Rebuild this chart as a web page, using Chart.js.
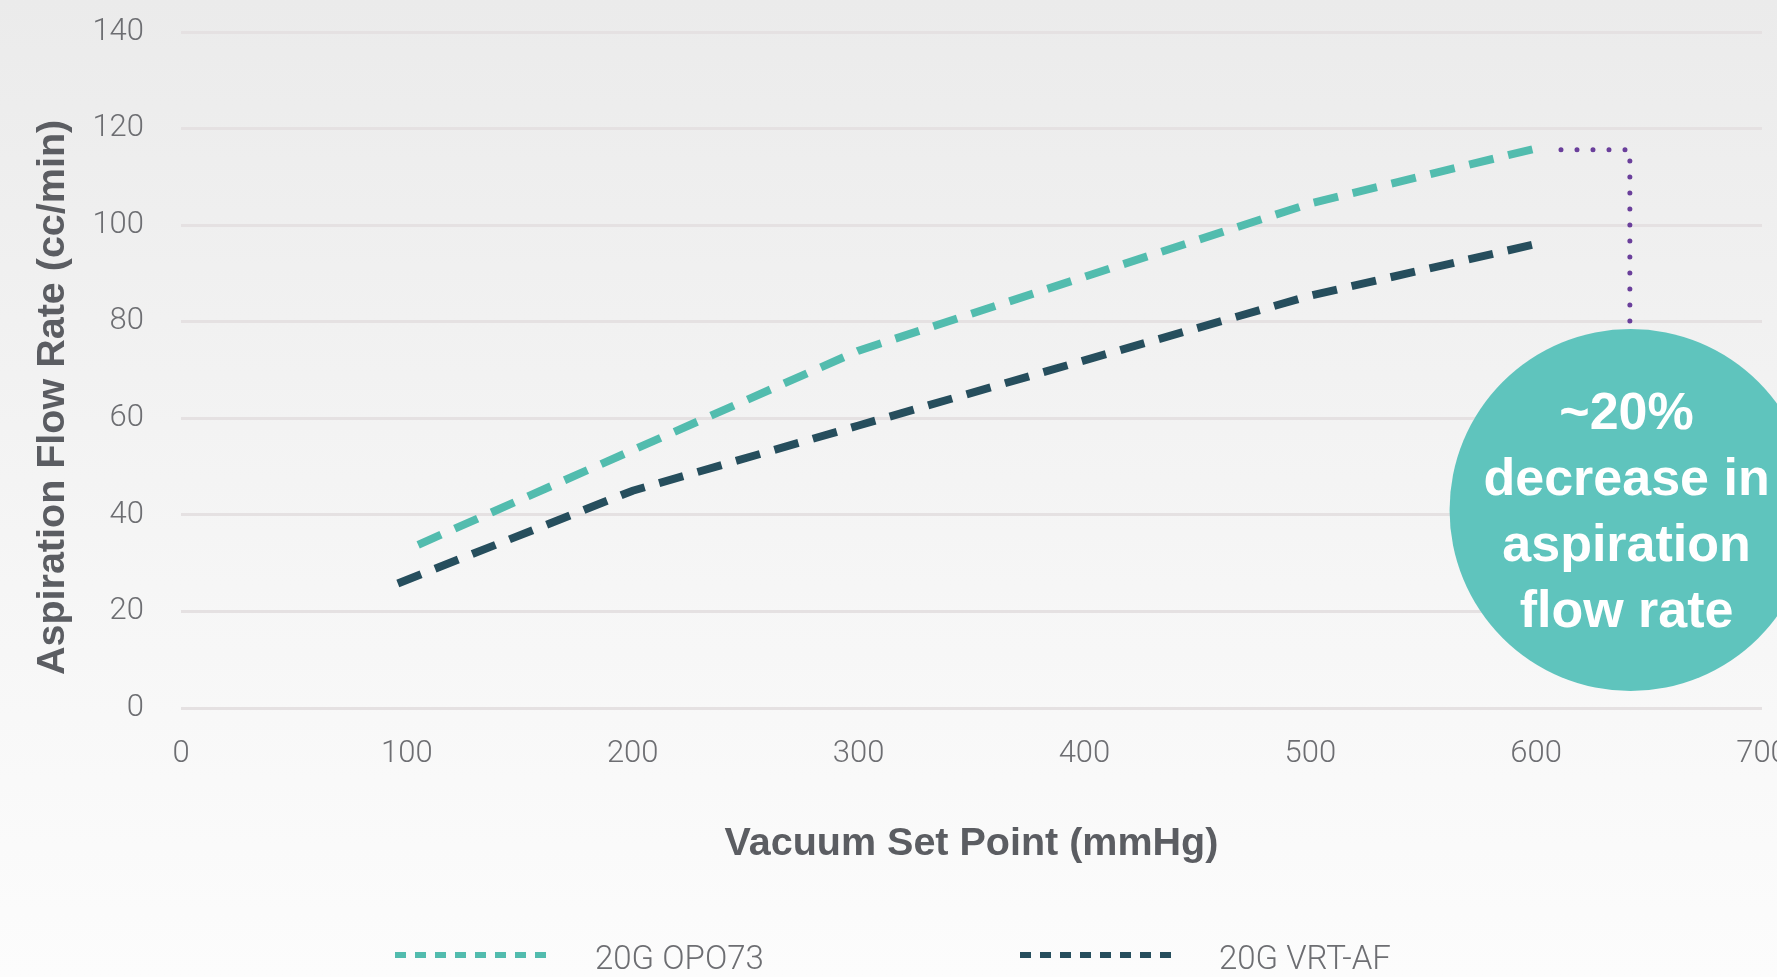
<!DOCTYPE html>
<html>
<head>
<meta charset="utf-8">
<script src="https://cdn.jsdelivr.net/npm/chart.js@4.4.1/dist/chart.umd.min.js"></script>
<style>
  html, body {
    margin: 0;
    padding: 0;
    width: 1777px;
    height: 977px;
    overflow: hidden;
    background: linear-gradient(to bottom, #ebebeb 0%, #f6f6f6 60%, #fcfcfc 100%);
  }
  #myChart {
    position: absolute;
    left: 0;
    top: 0;
  }
</style>
</head>
<body>
<canvas id="myChart" width="1830" height="1000"></canvas>
<script>
// values
const opoX = [105, 200, 300, 400, 500, 600];
const opoY = [33.8, 53.4, 74, 89.3, 104.5, 115.9];
const vrtX = [96, 200, 300, 400, 500, 600];
const vrtY = [25.8, 45, 58.5, 72, 85.4, 96.1];

// callout: dotted leader + circle
const leaderX = [611, 641.5, 641.5];
const leaderY = [115.6, 115.6, 78.5];
const calloutX = 641.8;
const calloutY = 41;
const calloutR = 181;
const calloutText = ['~20%', 'decrease in', 'aspiration', 'flow rate'];

const seriesLabels = ['20G OPO73', '20G VRT-AF'];
const seriesColors = ['#52bcae', '#264e5d'];

const xTicksMin = 0, xTicksMax = 700, xStep = 100;
const yTicksMin = 0, yTicksMax = 140, yStep = 20;

function toPoints(xs, ys) {
    let pts = [];
    for (let i = 0; i < xs.length; i++) {
        pts.push({x: xs[i], y: ys[i]});
    }
    return pts;
}

const tickFont = {family: "Roboto, 'Liberation Sans', sans-serif", size: 31, weight: '300'};
const titleFont = {family: "'Liberation Sans', Arial, sans-serif", size: 39.5, weight: 'bold'};

// text inside the circle
const calloutPlugin = {
    id: 'calloutText',
    afterDatasetsDraw(chart) {
        const el = chart.getDatasetMeta(0).data[0];
        const ctx = chart.ctx;
        ctx.save();
        ctx.fillStyle = '#ffffff';
        ctx.font = "bold 52px 'Liberation Sans', Arial, sans-serif";
        ctx.textAlign = 'center';
        ctx.textBaseline = 'middle';
        const lh = 66;
        for (let i = 0; i < calloutText.length; i++) {
            ctx.fillText(calloutText[i], el.x - 4, el.y + 3.5 + (i - 1.5) * lh);
        }
        ctx.restore();
    }
};

// legend along the bottom
const legendPlugin = {
    id: 'bottomLegend',
    afterDraw(chart) {
        const ctx = chart.ctx;
        const samples = [[395, 549, 595], [1020, 1171, 1219]];
        ctx.save();
        for (let i = 0; i < seriesLabels.length; i++) {
            const s = samples[i];
            ctx.beginPath();
            ctx.setLineDash([11, 9]);
            ctx.lineWidth = 6;
            ctx.strokeStyle = seriesColors[i];
            ctx.moveTo(s[0], 955);
            ctx.lineTo(s[1], 955);
            ctx.stroke();
            ctx.setLineDash([]);
            ctx.fillStyle = '#6d6e72';
            ctx.font = "300 33px Roboto, 'Liberation Sans', sans-serif";
            ctx.textAlign = 'left';
            ctx.textBaseline = 'middle';
            ctx.fillText(seriesLabels[i], s[2], 961);
        }
        ctx.restore();
    }
};

const config = {
    type: 'line',
    data: {
        datasets: [
            {
                type: 'bubble',
                label: 'callout',
                data: [{x: calloutX, y: calloutY, r: calloutR}],
                backgroundColor: '#5fc4bd',
                borderWidth: 0,
                clip: false,
            },
            {
                label: seriesLabels[0],
                data: toPoints(opoX, opoY),
                borderColor: seriesColors[0],
                borderWidth: 8,
                borderDash: [25, 15],
                pointRadius: 0,
                fill: false,
                tension: 0,
            },
            {
                label: seriesLabels[1],
                data: toPoints(vrtX, vrtY),
                borderColor: seriesColors[1],
                borderWidth: 8,
                borderDash: [25, 15],
                pointRadius: 0,
                fill: false,
                tension: 0,
            },
            {
                label: 'leader',
                data: toPoints(leaderX, leaderY),
                borderColor: '#6a3f9b',
                borderWidth: 5,
                borderDash: [0, 16],
                borderCapStyle: 'round',
                pointRadius: 0,
                fill: false,
                clip: false,
            },
        ]
    },
    options: {
        responsive: false,
        animation: false,
        devicePixelRatio: 1,
        events: [],
        layout: {
            autoPadding: false,
            padding: {left: 0, right: 68, top: 32, bottom: 132}
        },
        plugins: {
            legend: {display: false},
            tooltip: {enabled: false},
        },
        scales: {
            x: {
                type: 'linear',
                min: xTicksMin,
                max: xTicksMax,
                ticks: {
                    stepSize: xStep,
                    color: '#6d6e72',
                    font: tickFont,
                    padding: 28,
                    maxRotation: 0,
                },
                grid: {display: false, drawTicks: false},
                border: {display: false},
                title: {
                    display: true,
                    text: 'Vacuum Set Point (mmHg)',
                    color: '#5b5d62',
                    font: titleFont,
                    padding: {top: 0, bottom: 0},
                },
                afterFit(scale) {
                    scale.height = 160;
                },
            },
            y: {
                type: 'linear',
                min: yTicksMin,
                max: yTicksMax,
                ticks: {
                    stepSize: yStep,
                    color: '#6d6e72',
                    font: tickFont,
                    padding: 37,
                },
                grid: {
                    color: '#e5e1e2',
                    lineWidth: 3,
                    drawTicks: false,
                },
                border: {display: false},
                title: {
                    display: true,
                    text: 'Aspiration Flow Rate (cc/min)     ',
                    color: '#5b5d62',
                    font: titleFont,
                    padding: {top: 29, bottom: 0},
                },
                afterFit(scale) {
                    scale.width = 181;
                    // tick padding should not push the plot down
                    scale.paddingTop = 0;
                    scale.paddingBottom = 0;
                },
            }
        }
    },
    plugins: [calloutPlugin, legendPlugin]
};

const myChart = new Chart(
    document.getElementById('myChart'),
    config
);
</script>
</body>
</html>
